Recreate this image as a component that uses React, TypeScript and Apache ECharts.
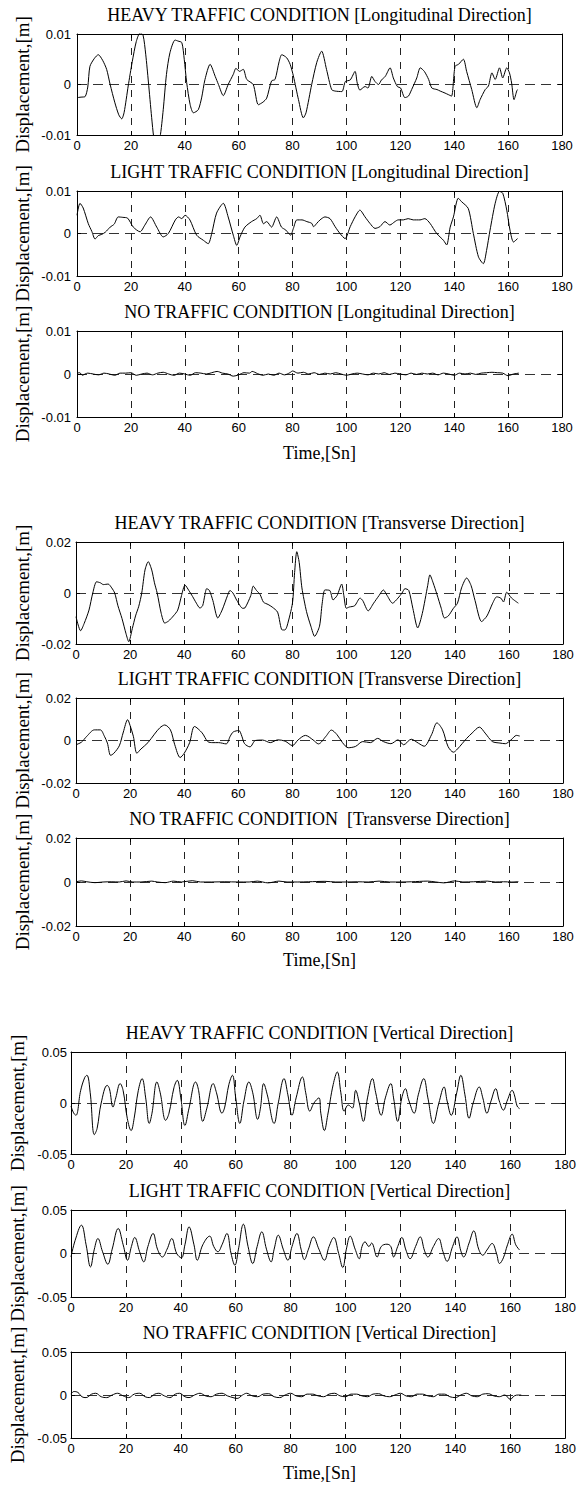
import React, { useEffect, useRef } from "react";
import * as echarts from "echarts";

// Time axis (s) and displacement limits (m) for each direction
const TIME_MIN = 0;
const TIME_MAX = 180;
const TIME_STEP = 20;
const LIMIT_LONGITUDINAL = 0.01;
const LIMIT_TRANSVERSE = 0.02;
const LIMIT_VERTICAL = 0.05;

// ---- Longitudinal direction: [time s, displacement m] ----
const longHeavy: [number, number][] = [
  [0, -0.0026], [1.5, -0.0025], [3, -0.0024], [4, -0.0005], [4.8, 0.0036], [6.5, 0.0052], [7.9, 0.0059],
  [9.5, 0.0048], [11, 0.003], [12.3, 0], [14, -0.0035], [15.5, -0.006], [16.6, -0.0068], [17.5, -0.0055],
  [19, -0.0003], [20.5, 0.0045], [22, 0.0085], [23.4, 0.0102], [24.5, 0.0098], [25.5, 0.006], [26.5, 0.0005],
  [27.7, -0.0065], [28.5, -0.0105], [29.5, -0.0125], [30.8, -0.0105], [32, -0.005], [33.2, 0.002], [34.5, 0.0063],
  [36.4, 0.0088], [37.5, 0.0086], [38.9, 0.0083], [39.8, 0.005], [40.7, 0.0004], [42, -0.004], [43.2, -0.0056],
  [45, -0.005], [46.3, -0.0025], [47.5, 0.001], [49.4, 0.004], [51.3, 0.0016], [52.5, 0], [54.3, -0.0022],
  [56.1, 0], [58, 0.002], [59, 0.0032], [60.3, 0.0026], [61.7, 0.003], [63, 0.001], [65.4, 0], [67.3, -0.004],
  [69, -0.0035], [70.4, -0.0027], [72.2, 0.0007], [73.5, 0.001], [75, 0.0045], [76, 0.0059], [77.8, 0.0053],
  [79.1, 0.004], [80.3, 0.0017], [82.2, -0.003], [84, -0.0066], [85, -0.0056], [87.1, 0], [89, 0.0044],
  [90.8, 0.0066], [92.6, 0.003], [94.5, -0.001], [95.8, -0.0013], [98.3, -0.0014], [99.6, 0.0006], [101.4, 0.0009],
  [103.2, 0.0026], [104, 0.0003], [105, -0.0011], [106.9, -0.0004], [108, -0.0007], [109.4, 0.0016], [110.6, 0.0006],
  [111.9, 0], [113, 0.0009], [114.4, 0.0016], [116.2, 0.0033], [117.4, 0.0013], [118.9, -0.0004], [120.1, -0.0007],
  [121.7, -0.0026], [123, -0.0023], [124.2, -0.001], [126.1, 0.0013], [127.4, 0.0033], [128.9, 0.0026], [130.5, 0.001],
  [131.7, -0.0007], [133.6, -0.001], [134.8, -0.0013], [136.6, -0.0017], [137.8, -0.002], [139, -0.0023], [140.3, 0.0036],
  [141.6, 0.004], [143.4, 0.005], [144.6, 0.0026], [146.5, -0.001], [148.4, -0.0046], [149.6, -0.003], [151.5, -0.001],
  [152.7, -0.0003], [154, 0.0023], [155.2, 0.001], [156.8, 0.0033], [158, 0.0013], [159.5, 0.0033], [160.5, 0.0023],
  [161.3, 0.0003], [162.2, -0.003], [163.2, -0.0013], [163.5, -0.001],
];

const longLight: [number, number][] = [
  [0, 0.0043], [1.1, 0.0071], [2.3, 0.006], [4.2, 0.0023], [5.5, 0.0005], [6.7, -0.0013], [7.9, -0.0005],
  [9.2, -0.0002], [10.5, 0.0003], [12.3, 0.0015], [13.8, 0.0022], [15.3, 0.0039], [17, 0.0038], [18.8, 0.0036],
  [20.9, 0.0015], [23.4, 0.0004], [25.2, 0.002], [27.3, 0.0039], [29.6, 0.0015], [32, -0.0008], [33.9, 0],
  [36.5, 0.0032], [37.7, 0.0039], [38.9, 0.0035], [40.1, 0.0043], [41.9, 0.0032], [44.4, -0.0004], [46.9, -0.0016],
  [48.7, -0.0024], [50, 0], [51.8, 0.0048], [54.3, 0.0071], [56.1, 0.0039], [58, -0.0004], [59.3, -0.0028],
  [60.5, -0.0008], [62.3, 0.0015], [64.8, 0.0028], [66.7, 0.0035], [67.9, 0.0043], [69.2, 0.0023], [70.4, 0.0028],
  [72.2, 0.0015], [74.1, 0.0039], [75.9, 0.0015], [77.5, 0.0008], [79.3, -0.0004], [80.3, 0.0012], [81.6, 0.0032],
  [83.5, 0.0032], [85.3, 0.0028], [87.1, 0.0024], [87.8, 0.0016], [89, 0.0024], [90.2, 0.0032], [92, 0.0039],
  [93.9, 0.0035], [95.8, 0.0016], [97.6, 0], [99.5, -0.0012], [101.4, 0.0016], [103.2, 0.0039], [105, 0.0055],
  [106.9, 0.0039], [108.7, 0.0024], [110.6, 0.0012], [112.4, 0.0016], [114.3, 0.0028], [116.1, 0.002], [118, 0.0028],
  [119.2, 0.0032], [121.1, 0.0032], [122.9, 0.0035], [124.8, 0.0032], [127.3, 0.0032], [129.1, 0.0035], [131, 0.0024],
  [133.5, 0], [136, -0.0016], [137.2, -0.0027], [138.5, 0.0015], [139.7, 0.0039], [141.5, 0.0083], [142.7, 0.0075],
  [145.2, 0.0059], [147.1, 0], [149, -0.0055], [150.8, -0.0071], [152, -0.004], [153.3, 0.0008], [155.2, 0.0071],
  [156.8, 0.0099], [158, 0.0095], [159.5, 0.0055], [160.7, 0.0008], [162, -0.002], [163.5, -0.0012],
];

const longNone: [number, number][] = [
  [0, 0.0002], [1, 0.0003], [2, -0.0003], [3, 0], [4, 0.0002], [6, 0], [8, -0.0002], [10, 0.0002], [12, 0],
  [14, -0.0003], [16, 0.0002], [18, 0.0002], [20, 0.0003], [22, -0.0003], [24, 0], [26, 0.0002], [28, -0.0002],
  [30, 0.0002], [32, 0.0004], [34, 0], [36, -0.0003], [38, 0.0002], [40, 0], [42, -0.0003], [44, 0.0003],
  [46, 0.0002], [48, 0], [50, 0.0003], [52, 0.0006], [54, 0.0002], [56, 0], [58, -0.0005], [60, -0.0002],
  [62, 0.0003], [64, 0.0002], [65, 0.0006], [67, 0.0001], [69, -0.0003], [71, 0], [73, -0.0003], [75, 0.0002],
  [77, -0.0002], [79, 0.0003], [80, 0.0007], [82, 0.0002], [84, 0.0004], [86, 0], [88, 0.0003], [90, -0.0001],
  [92, 0.0002], [94, 0], [96, 0.0003], [98, 0], [100, -0.0003], [102, 0], [104, 0.0002], [106, 0], [108, -0.0002],
  [110, 0.0002], [112, 0], [114, 0.0003], [116, -0.0001], [118, 0.0002], [120, 0], [122, -0.0002], [124, 0.0002],
  [126, -0.0001], [128, 0.0002], [130, 0], [132, 0.0002], [134, -0.0002], [136, 0.0002], [138, 0], [140, -0.0003],
  [142, 0.0002], [144, 0], [146, 0.0002], [148, -0.0001], [150, 0.0002], [152, 0.0003], [154, 0.0004],
  [156, 0.0003], [158, 0.0002], [160, -0.0004], [162, 0], [164, 0.0002],
];

// ---- Transverse direction ----
const transHeavy: [number, number][] = [
  [0, -0.0093], [1.7, -0.0148], [3, -0.012], [4.8, -0.0067], [6.2, 0], [7.6, 0.0044], [9, 0.004], [10.1, 0.0033],
  [11.9, 0.0035], [13.2, 0.002], [14.3, 0], [15.5, -0.005], [17, -0.01], [18.5, -0.016], [19.5, -0.0191],
  [20.8, -0.014], [22, -0.009], [23.2, -0.0052], [24.3, 0], [25.5, 0.009], [26.7, 0.0123], [28, 0.009], [29, 0.004],
  [30, 0], [31.5, -0.008], [32.8, -0.0118], [34.2, -0.011], [36, -0.009], [37.6, -0.0067], [39, -0.001],
  [40.3, 0.0031], [41.7, 0.001], [43.1, -0.0014], [44.5, -0.004], [45.8, -0.0059], [46.8, -0.005], [47.6, -0.001],
  [48.3, 0.0017], [49.3, 0.001], [50.6, -0.003], [52.4, -0.0098], [54, -0.0067], [56, -0.001], [56.9, 0.001],
  [58, 0], [59.5, -0.003], [61.6, -0.006], [62.5, -0.0058], [64.6, -0.001], [65.5, 0.0027], [66.7, 0.001],
  [68, -0.0005], [69.3, -0.0036], [71, -0.0045], [72.5, -0.0055], [74.5, -0.0075], [76.2, -0.0145], [77.2, -0.0145],
  [78, -0.013], [80, -0.004], [80.8, 0.008], [81.6, 0.0162], [82.5, 0.012], [83.5, 0.002], [85.2, -0.0073],
  [86.8, -0.013], [88.2, -0.017], [90, -0.013], [91, -0.004], [92, 0.0012], [93.8, 0.001], [95, -0.0027],
  [96.5, -0.001], [98.2, 0.0035], [99, -0.001], [99.9, -0.006], [101, -0.0055], [103, -0.005], [105, -0.002],
  [106, -0.003], [108, -0.007], [110, -0.004], [112, -0.001], [113.6, 0.0012], [115, -0.001], [117, -0.004],
  [119, -0.002], [120.5, 0], [121.6, 0.0017], [123, 0.001], [124.5, -0.006], [126.3, -0.0137], [128, -0.008],
  [130, 0.003], [130.8, 0.0071], [132, 0.004], [133.4, -0.0005], [135, -0.006], [136.2, -0.0098], [137.6, -0.009],
  [139.5, -0.006], [141, -0.004], [142.5, 0.002], [144.4, 0.0059], [146, 0.003], [147.5, -0.003], [149.9, -0.0112],
  [151.9, -0.009], [154, -0.004], [155.5, -0.0015], [157, -0.002], [158, -0.0035], [159.2, 0.0003], [161, -0.002],
  [163.5, -0.004],
];

const transLight: [number, number][] = [
  [0, -0.002], [2, -0.0008], [4, 0.002], [6.8, 0.005], [9, 0.005], [10.5, 0.002], [11.6, -0.0012], [12.8, -0.007],
  [14, -0.006], [16, -0.0025], [17.5, 0.004], [19.1, 0.0098], [20, 0.007], [21.2, 0.002], [22.5, -0.006],
  [24, -0.004], [26.6, -0.001], [29, 0.003], [31, 0.006], [32.8, 0.0073], [34.9, 0.005], [36.5, -0.002],
  [38.5, -0.008], [40, -0.006], [42, -0.001], [43.8, 0.0066], [46.6, 0.0036], [48.7, -0.0005], [50.6, -0.001],
  [52.7, -0.001], [55.5, -0.0016], [57, 0.002], [58.1, 0.004], [60.2, 0.0047], [61.3, 0.002], [62.3, -0.0015],
  [64.3, -0.003], [66.3, 0], [69, 0.0002], [71.8, -0.001], [74.6, 0.0003], [77.3, -0.0003], [80, -0.0024],
  [82.1, 0.0003], [84.8, 0.0024], [87.6, 0.0003], [89.6, -0.0016], [92.4, 0.002], [94.4, 0.0049], [96.5, 0.0027],
  [98.5, -0.001], [100.6, -0.0034], [103.3, -0.0028], [106, -0.0005], [108.8, -0.001], [111.5, 0.001],
  [113.6, -0.0005], [116.4, -0.0015], [119, 0.0003], [121.1, -0.002], [123.9, 0.0006], [126.6, -0.0013],
  [128.7, -0.0027], [131.4, 0.0027], [133.4, 0.0083], [135.5, 0.005], [137.5, -0.0028], [139.5, -0.0055],
  [141, -0.004], [144.4, 0.001], [146.4, 0.0035], [149.1, 0.0063], [151.2, 0.0035], [153.9, -0.0005],
  [156.7, -0.0012], [158.7, -0.0015], [160.8, 0.0003], [162.8, 0.0024], [164, 0.0021],
];

const transNone: [number, number][] = [
  [0, 0.0001], [2, 0.0005], [4, 0.0001], [7, -0.0003], [10, 0], [13, 0.0001], [16, 0], [18.5, 0.0005],
  [21, 0], [24, 0], [28, 0.0004], [30, 0], [33, -0.0003], [36, 0.0004], [39, 0], [43, 0.0006], [46, 0],
  [50, 0], [55, 0.0001], [60, 0], [64, 0], [67, 0.0004], [71, -0.0004], [75, 0.0004], [78, 0], [82, 0],
  [86, 0.0001], [92, 0.0003], [96, 0], [100, 0], [104, 0.0001], [108, 0], [112, 0.0004], [116, 0], [120, 0],
  [124, 0.0001], [130, 0.0004], [133, 0], [136, -0.0004], [140, 0.0005], [143, 0], [147, 0.0001],
  [152, 0.0004], [155, 0], [158, 0.0001], [161, 0], [163.5, 0.0002],
];

// ---- Vertical direction ----
const vertHeavy: [number, number][] = [
  [0, -0.003], [1, -0.01], [1.8, -0.012], [3.5, 0.012], [5, 0.025], [5.8, 0.0272], [7, 0.01], [8.5, -0.031],
  [9.5, -0.025], [11, 0], [13.2, 0.0173], [14, 0.014], [15.3, -0.004], [16.3, 0.005], [17.9, 0.019], [19, 0.012],
  [20.5, -0.015], [21.9, -0.027], [23, -0.015], [24.5, 0.012], [25.9, 0.0239], [27.2, 0.005], [28.5, -0.02],
  [29.5, -0.01], [31.3, 0.0206], [32.5, 0.01], [34.5, -0.017], [35.7, -0.01], [37.5, 0.015], [38.7, 0.0222],
  [40, 0.005], [41.5, -0.022], [43, -0.005], [45.4, 0.0206], [46.5, 0.012], [48, -0.018], [49.5, -0.005],
  [51.8, 0.019], [53, 0.01], [55, -0.01], [56, -0.004], [57.5, 0.018], [58.8, 0.0272], [60, 0.005], [61.5, -0.02],
  [63, 0.002], [64.8, 0.0206], [66.2, 0.01], [68, -0.016], [69, -0.005], [70.2, 0.019], [71.5, 0.008], [74, -0.02],
  [75.5, 0], [77.6, 0.0239], [79, 0.008], [80.5, -0.012], [82, 0.005], [84.3, 0.0255], [85.5, 0.01], [87, -0.008],
  [88.5, 0], [90.3, 0.005], [91, -0.01], [92.3, -0.027], [93.5, -0.012], [95.5, 0.018], [97, 0.0304], [98.3, 0.01],
  [99.5, -0.008], [101, -0.002], [102.5, -0.005], [103.7, 0.0124], [105, 0], [106.5, -0.018], [108, 0.005],
  [109.8, 0.0239], [111, 0.01], [113, -0.012], [114.5, 0.005], [116.5, 0.019], [117.5, 0.005], [119, -0.018],
  [120.5, 0.005], [121.8, 0.014], [123, 0.003], [125, -0.01], [126.5, 0.008], [128.5, 0.0239], [130, 0.005],
  [132, -0.02], [134, 0], [135.9, 0.0157], [137, 0.002], [138.5, -0.012], [140.5, 0.01], [142, 0.0272],
  [143.5, 0.008], [145, -0.015], [146.5, 0], [148.7, 0.0157], [150, 0.005], [151.5, -0.01], [153, 0.002],
  [154.7, 0.014], [156, 0.002], [157.5, -0.007], [159, 0.003], [160.7, 0.0124], [161.5, 0.008], [162.5, -0.003],
  [163.4, -0.0055],
];

const vertLight: [number, number][] = [
  [0, -0.004], [1.5, 0.015], [3.8, 0.0325], [5.5, 0.01], [7.1, -0.0154], [8.5, 0.005], [9.8, 0.0172], [11.5, 0.002],
  [13.4, -0.0123], [15, 0.005], [17.2, 0.0287], [19, 0.01], [20.6, -0.0077], [22, 0.008], [23.2, 0.0184],
  [25, 0.002], [26.5, -0.0096], [28, 0.008], [29.9, 0.023], [31.5, 0.005], [33.3, -0.004], [35, 0.005],
  [36.7, 0.0172], [38.5, 0], [40.2, -0.005], [41.5, 0.01], [43, 0.0306], [44.8, 0.01], [46, -0.0077], [48, 0.01],
  [50.5, 0.0199], [52, 0.008], [53.5, 0.002], [55, 0.01], [56.8, 0.023], [58.3, 0], [59.7, -0.0135], [61, 0.005],
  [62.8, 0.0337], [64.5, 0.008], [66.2, -0.0115], [67.8, 0.008], [69.5, 0.0249], [71.2, 0.005], [72.9, -0.0096],
  [74, 0.005], [75.5, 0.021], [77.3, 0.005], [79, -0.0077], [80.5, 0.008], [82.3, 0.023], [83.8, 0.005],
  [85, -0.007], [86.5, 0.005], [88.3, 0.0191], [90.3, 0.005], [92.3, -0.0077], [94, 0.008], [95.7, 0.0184],
  [97.5, 0], [99, -0.0161], [100.3, 0.005], [101.7, 0.0199], [103.5, 0.005], [105, -0.006], [106, 0.008],
  [107.1, 0.0134], [108.5, 0.008], [109.5, 0.012], [111.5, -0.004], [113, 0.008], [115.1, 0.0107], [116.5, 0.008],
  [117.5, -0.004], [119, 0.008], [120.5, 0.0184], [122, 0.004], [123.5, -0.006], [125.5, 0.008], [127.2, 0.0191],
  [128.8, 0.003], [130, -0.004], [132, 0.008], [133.9, 0.0172], [135.5, 0.002], [137, -0.009], [139, 0.008],
  [140.6, 0.0191], [142, 0.003], [143, -0.004], [145, 0.012], [146.7, 0.026], [148.5, 0.005], [150, -0.002],
  [151.5, 0.004], [153.4, 0.0115], [155, 0], [156.1, -0.0115], [157.5, -0.005], [159, 0.01], [160.7, 0.0222],
  [162, 0.01], [163.4, 0.004],
];

const vertNone: [number, number][] = [
  [0, 0.001], [1, 0.004], [2.5, 0.003], [4, -0.002], [5.5, -0.003], [7.5, 0.001], [9, 0.002], [11, -0.002],
  [13, -0.003], [15, 0], [17, 0.002], [19, -0.001], [21, -0.003], [23, 0.001], [25, 0.002], [27, -0.002],
  [28.5, -0.003], [30.5, 0.001], [32, 0.002], [34, -0.001], [36, -0.003], [38, 0.001], [39.5, 0.002],
  [41.5, -0.002], [43, -0.003], [45, 0], [47, 0.002], [49, -0.001], [51, -0.002], [53, 0.001], [55, 0.002],
  [57, -0.001], [59, -0.003], [60.5, -0.004], [62.5, 0], [64, 0.002], [66, -0.001], [68, -0.002], [70, 0.001],
  [72, 0.0015], [74, -0.002], [76, -0.003], [78, 0], [80, 0.002], [82, -0.001], [84, -0.002], [86, 0.001],
  [88, 0.001], [90, -0.001], [92, -0.002], [94, 0.001], [96, 0.002], [98, -0.001], [100, -0.002], [102, 0.001],
  [104, 0.001], [106, -0.001], [108, -0.002], [110, 0.001], [112, 0.0015], [114, -0.001], [116, -0.002], [118, 0],
  [120, 0.002], [122, -0.001], [124, -0.002], [126, 0.001], [128, 0.001], [130, -0.001], [132, -0.002],
  [134, 0.001], [136, 0.001], [138, -0.002], [140, -0.003], [142, 0], [144, 0.002], [146, -0.001], [148, -0.002],
  [150, 0.001], [152, 0.0015], [154, -0.001], [156, -0.002], [158, 0], [160, -0.005], [161.5, -0.001],
  [163, 0], [164, 0],
];

const PANELS = [
  { title: "HEAVY TRAFFIC CONDITION [Longitudinal Direction]", data: longHeavy, limit: LIMIT_LONGITUDINAL, smooth: 0.25 },
  { title: "LIGHT TRAFFIC CONDITION [Longitudinal Direction]", data: longLight, limit: LIMIT_LONGITUDINAL, smooth: 0.25 },
  { title: "NO TRAFFIC CONDITION [Longitudinal Direction]", data: longNone, limit: LIMIT_LONGITUDINAL, smooth: 0.3 },
  { title: "HEAVY TRAFFIC CONDITION [Transverse Direction]", data: transHeavy, limit: LIMIT_TRANSVERSE, smooth: 0.25 },
  { title: "LIGHT TRAFFIC CONDITION [Transverse Direction]", data: transLight, limit: LIMIT_TRANSVERSE, smooth: 0.3 },
  { title: "NO TRAFFIC CONDITION  [Transverse Direction]", data: transNone, limit: LIMIT_TRANSVERSE, smooth: 0.3 },
  { title: "HEAVY TRAFFIC CONDITION [Vertical Direction]", data: vertHeavy, limit: LIMIT_VERTICAL, smooth: 0.4 },
  { title: "LIGHT TRAFFIC CONDITION [Vertical Direction]", data: vertLight, limit: LIMIT_VERTICAL, smooth: 0.4 },
  { title: "NO TRAFFIC CONDITION [Vertical Direction]", data: vertNone, limit: LIMIT_VERTICAL, smooth: 0.4 },
];

// Plot rectangles in page pixels
const BOXES = [
  { left: 77, top: 34, width: 485, height: 101, labelGap: 6, ylabelX: 22 },
  { left: 77, top: 191, width: 485, height: 85, labelGap: 6, ylabelX: 22 },
  { left: 77, top: 331, width: 485, height: 86, labelGap: 6, ylabelX: 22 },
  { left: 76, top: 542, width: 487, height: 102, labelGap: 5, ylabelX: 22 },
  { left: 76, top: 698, width: 487, height: 85, labelGap: 5, ylabelX: 22 },
  { left: 76, top: 838, width: 487, height: 88, labelGap: 5, ylabelX: 22 },
  { left: 71, top: 1052, width: 497, height: 102, labelGap: 4, ylabelX: 17 },
  { left: 71, top: 1210, width: 497, height: 87, labelGap: 4, ylabelX: 17 },
  { left: 71, top: 1352, width: 497, height: 86, labelGap: 4, ylabelX: 17 },
];

const X_LABEL_Y = [453, 960, 1473];
const Y_NAME = "Displacement,[m]";
const X_NAME = "Time,[Sn]";

const SERIF = "'Liberation Serif', 'Times New Roman', 'DejaVu Serif', serif";
const SANS = "'Liberation Sans', Arial, Helvetica, sans-serif";

function buildOption() {
  const grid: any[] = [];
  const xAxis: any[] = [];
  const yAxis: any[] = [];
  const series: any[] = [];
  const graphic: any[] = [];

  const frameLine = { show: true, onZero: false, lineStyle: { color: "#000", width: 1 } };
  const innerTick = { show: true, inside: true, length: 4, lineStyle: { color: "#000", width: 1 } };

  PANELS.forEach((p, i) => {
    const b = BOXES[i];
    grid.push({ left: b.left, top: b.top, width: b.width, height: b.height, show: false });

    xAxis.push({
      type: "value", gridIndex: i, position: "bottom",
      min: TIME_MIN, max: TIME_MAX, interval: TIME_STEP,
      axisLine: frameLine, axisTick: innerTick,
      axisLabel: { show: true, margin: 4, color: "#000", fontFamily: SANS, fontSize: 13 },
      splitLine: {
        show: true, showMinLine: false, showMaxLine: false,
        lineStyle: { color: "#222", width: 1, type: [7, 7] },
      },
    });
    xAxis.push({
      type: "value", gridIndex: i, position: "top",
      min: TIME_MIN, max: TIME_MAX, interval: TIME_STEP,
      axisLine: frameLine, axisTick: innerTick,
      axisLabel: { show: false }, splitLine: { show: false },
    });

    yAxis.push({
      type: "value", gridIndex: i, position: "left",
      min: -p.limit, max: p.limit, interval: p.limit,
      axisLine: frameLine, axisTick: innerTick,
      axisLabel: {
        show: true, margin: b.labelGap, color: "#000", fontFamily: SANS, fontSize: 13,
        formatter: (v: number) => String(parseFloat(v.toFixed(4))),
      },
      splitLine: {
        show: true, showMinLine: false, showMaxLine: false,
        lineStyle: { color: "#333", width: 1, type: [10, 6] },
      },
    });
    yAxis.push({
      type: "value", gridIndex: i, position: "right",
      min: -p.limit, max: p.limit, interval: p.limit,
      axisLine: frameLine, axisTick: innerTick,
      axisLabel: { show: false }, splitLine: { show: false },
    });

    series.push({
      type: "line", name: p.title,
      xAxisIndex: 2 * i, yAxisIndex: 2 * i,
      data: p.data, showSymbol: false, symbol: "none",
      smooth: p.smooth, clip: true, silent: true,
      lineStyle: { color: "#000", width: 1 },
    });

    const cx = b.left + b.width / 2;
    graphic.push({
      type: "text", x: cx, y: b.top - 19, silent: true,
      style: {
        text: p.title, font: `18px ${SERIF}`, fill: "#000",
        align: "center", verticalAlign: "middle", textAlign: "center", textVerticalAlign: "middle",
      },
    });
    graphic.push({
      type: "text", x: b.ylabelX, y: b.top + b.height / 2, rotation: Math.PI / 2, silent: true,
      style: {
        text: Y_NAME, font: `19px ${SERIF}`, fill: "#000",
        align: "center", verticalAlign: "middle", textAlign: "center", textVerticalAlign: "middle",
      },
    });
  });

  X_LABEL_Y.forEach((y, k) => {
    const b = BOXES[k * 3 + 2];
    graphic.push({
      type: "text", x: b.left + b.width / 2, y, silent: true,
      style: {
        text: X_NAME, font: `18px ${SERIF}`, fill: "#000",
        align: "center", verticalAlign: "middle", textAlign: "center", textVerticalAlign: "middle",
      },
    });
  });

  return {
    animation: false,
    backgroundColor: "#fff",
    grid, xAxis, yAxis, series, graphic,
  };
}

export default function App() {
  const ref = useRef<HTMLDivElement>(null);

  useEffect(() => {
    document.body.style.margin = "0";
    if (!ref.current) return;
    const chart = echarts.init(ref.current, undefined, { renderer: "svg" });
    chart.setOption(buildOption() as any);
    return () => chart.dispose();
  }, []);

  return <div ref={ref} style={{ width: 579, height: 1488, overflow: "hidden" }} />;
}
